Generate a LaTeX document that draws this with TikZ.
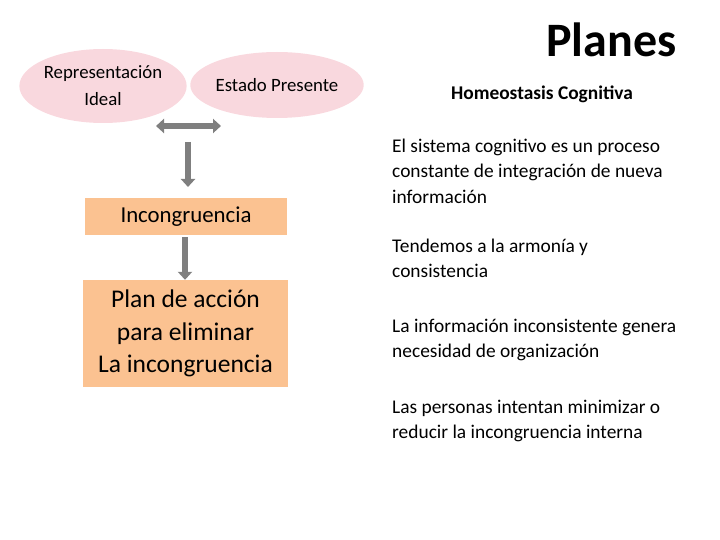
\documentclass[tikz,border=0pt]{standalone}
\usepackage{fontspec}
\setmainfont{Carlito}
\usepackage{tikz}
\usetikzlibrary{shapes,arrows.meta,positioning}
\definecolor{rosa}{HTML}{F9D8DE}
\definecolor{naranja}{HTML}{FBC291}
\definecolor{gris}{HTML}{7F7F7F}
\tikzstyle{elipse} = [ellipse, fill=rosa, inner sep=0pt, align=center, font=\fontsize{18.8}{27}\selectfont]
\tikzstyle{caja} = [rectangle, fill=naranja, align=center]
\tikzstyle{parrafo} = [anchor=north west, align=left, inner sep=0pt, font=\fontsize{19.4}{25.5}\selectfont]
\tikzstyle{flecha} = [gris, line width=6pt, -{Triangle[length=8pt,width=14pt]}]

\begin{document}
\begin{tikzpicture}[x=1pt,y=-1pt]
\useasboundingbox (0,0) rectangle (720,540);
\node (rep) [elipse, minimum width=160pt, minimum height=74pt] at (103,86) {Representación\\Ideal};
\node (est) [elipse, minimum width=156pt, minimum height=66pt] at (277,85) {Estado Presente};
\coordinate (d1) at (156,126);
\coordinate (d2) at (221,126);
\coordinate (v1) at (188,142);
\coordinate (v1b) at (188,187);
\node (inc) [caja, minimum width=202pt, minimum height=37pt, font=\fontsize{22.8}{26}\selectfont] at (186,216.5) {Incongruencia};
\node (plan) [caja, minimum width=205pt, minimum height=107pt, font=\fontsize{25.5}{32.5}\selectfont] at (185.5,333.5) {Plan de acción\\para eliminar\\La incongruencia};
\coordinate (v2) at (185,237);
\draw [gris, line width=6pt, {Triangle[length=8pt,width=14pt]}-{Triangle[length=8pt,width=14pt]}] (d1) -- (d2);
\draw [flecha] (v1) -- (v1b);
\draw [flecha] (v2) -- (plan.north -| v2);
\node (tit) [anchor=east, font=\fontsize{48}{50}\selectfont\bfseries] at (680,40) {Planes};
\node (hom) [font=\fontsize{19.4}{22}\selectfont\bfseries] at (542,94) {Homeostasis Cognitiva};
\node (p1) [parrafo] at (392,138.5) {El sistema cognitivo es un proceso\\constante de integración de nueva\\información};
\node (p2) [parrafo] at (392,238.5) {Tendemos a la armonía y\\consistencia};
\node (p3) [parrafo] at (392,318.5) {La información inconsistente genera\\necesidad de organización};
\node (p4) [parrafo] at (392,399.5) {Las personas intentan minimizar o\\reducir la incongruencia interna};
\end{tikzpicture}
\end{document}
